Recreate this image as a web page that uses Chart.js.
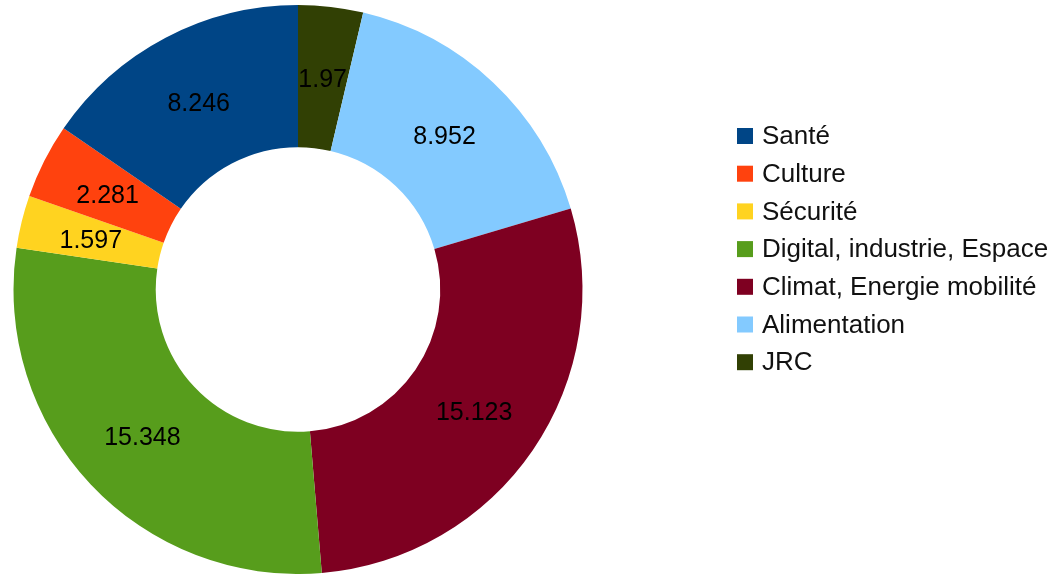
<!DOCTYPE html>
<html>
<head>
<meta charset="utf-8">
<script src="https://cdn.jsdelivr.net/npm/chart.js@4.4.1/dist/chart.umd.min.js"></script>
<style>
  html, body { margin: 0; padding: 0; background: #ffffff; }
  #wrap { width: 1061px; height: 574px; position: relative; }
</style>
</head>
<body>
<div id="wrap"><canvas id="c" width="1061" height="574"></canvas></div>
<script>
// Data in legend order
const categories = ["Santé", "Culture", "Sécurité", "Digital, industrie, Espace", "Climat, Energie mobilité", "Alimentation", "JRC"];
const values = [8.246, 2.281, 1.597, 15.348, 15.123, 8.952, 1.97];
const colors = ["#004586", "#ff420e", "#ffd320", "#579d1c", "#7e0021", "#83caff", "#314004"];

// Chart drawn clockwise from top in reversed order (original is counter-clockwise)
const drawLabels = categories.slice().reverse();
const drawValues = values.slice().reverse();
const drawColors = colors.slice().reverse();

const FONT = "'Liberation Sans', Arial, sans-serif";

const sliceLabels = {
  id: 'sliceLabels',
  afterDatasetsDraw(chart) {
    const ctx = chart.ctx;
    const meta = chart.getDatasetMeta(0);
    ctx.save();
    ctx.font = "25px " + FONT;
    ctx.fillStyle = "#000000";
    ctx.textAlign = "center";
    ctx.textBaseline = "middle";
    meta.data.forEach((arc, i) => {
      const p = arc.tooltipPosition();
      ctx.fillText(String(chart.data.datasets[0].data[i]), p.x, p.y + 3);
    });
    ctx.restore();
  }
};

const sideLegend = {
  id: 'sideLegend',
  afterDraw(chart) {
    const ctx = chart.ctx;
    ctx.save();
    ctx.font = "26px " + FONT;
    ctx.textAlign = "left";
    ctx.textBaseline = "middle";
    const x0 = 737, y0 = 136, step = 37.7, box = 16;
    categories.forEach((lab, i) => {
      const cy = y0 + i * step;
      ctx.fillStyle = colors[i];
      ctx.fillRect(x0, cy - box / 2, box, box);
      ctx.fillStyle = "#111111";
      ctx.fillText(lab, x0 + 25, cy + 1);
    });
    ctx.restore();
  }
};

new Chart(document.getElementById('c'), {
  type: 'doughnut',
  data: {
    labels: drawLabels,
    datasets: [{
      data: drawValues,
      backgroundColor: drawColors,
      borderWidth: 0
    }]
  },
  options: {
    responsive: false,
    animation: false,
    cutout: '50%',
    rotation: 0,
    layout: { padding: { left: 12, top: 5, right: 477, bottom: 0 } },
    plugins: {
      legend: { display: false },
      tooltip: { enabled: false }
    }
  },
  plugins: [sliceLabels, sideLegend]
});
</script>
</body>
</html>
